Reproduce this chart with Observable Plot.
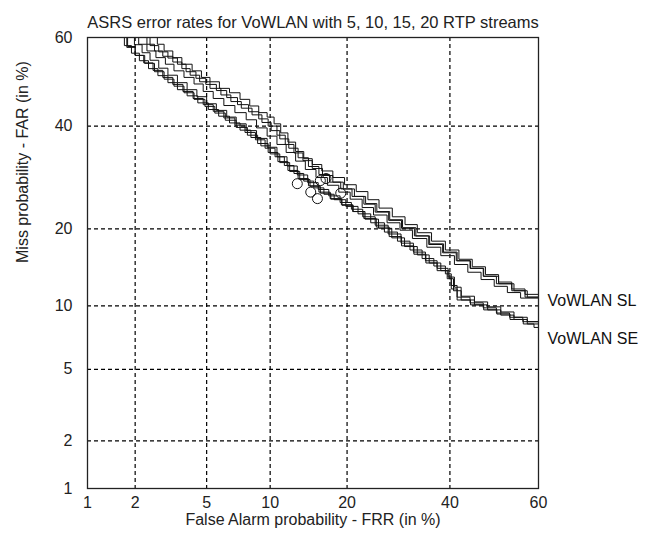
<!DOCTYPE html>
<html>
<head>
<meta charset="utf-8">
<script src="https://cdn.jsdelivr.net/npm/d3@7"></script>
<script src="https://cdn.jsdelivr.net/npm/@observablehq/plot@0.6"></script>
<style>
  html, body { margin: 0; padding: 0; background: #fff; }
  #chart svg { display: block; font-family: "Liberation Sans", Arial, sans-serif; }
</style>
</head>
<body>
<div id="chart"></div>
<script>
// ---- Data (percent values: [FRR, FAR]) ----
const title = "ASRS error rates for VoWLAN with 5, 10, 15, 20 RTP streams";
const xLabel = "False Alarm probability - FRR (in %)";
const yLabel = "Miss probability - FAR (in %)";
const xTickValues = [1, 2, 5, 10, 20, 40, 60];
const yTickValues = [1, 2, 5, 10, 20, 40, 60];
const gridValues = [2, 5, 10, 20, 40];

const sl1 = [[2.5,60],[2.7,58.5],[2.95,57],[3.3,55.5],[3.7,54],[4.2,52.5],[4.7,51],[5.2,50],[5.8,48.5],[6.5,47.5],[7.3,46],[8.1,44.5],[8.9,43],[9.7,42],[10.4,40.5],[11.1,38.5],[11.9,36.5],[12.8,34.5],[13.8,33],[14.9,31.8],[16.2,30.5],[17.8,29.2],[19.6,27.8],[21.5,26.5],[23.5,25],[25.5,23.5],[28,22],[30.5,20.7],[33,19.4],[36,18.1],[39,16.8],[42,15.5],[45,14.5],[48,13.5],[51,12.6],[54,11.8],[57,11.2],[60,11.0]];
const sl2 = [[2.2,60],[2.35,58.5],[2.6,57],[2.9,55.8],[3.3,54.5],[3.7,53],[4.1,51.5],[4.6,50],[5.2,48.5],[5.9,47],[6.6,45.5],[7.4,44],[8.3,42.5],[9.2,40.8],[10.1,39],[11.0,37.2],[12.0,35.2],[13.1,33.2],[14.4,31.4],[15.8,29.8],[17.3,28.3],[19.0,27],[20.8,25.6],[22.8,24.2],[24.8,22.8],[27.3,21.4],[29.8,20.1],[32.4,18.9],[35.4,17.6],[38.4,16.4],[41.4,15.3],[44.5,14.3],[47.5,13.3],[50.5,12.4],[54,11.6],[57,10.9],[60,10.6]];
const sl3 = [[1.95,60],[2.1,58.5],[2.35,57],[2.65,55.5],[3.0,54],[3.35,52.5],[3.8,51],[4.3,49.5],[4.8,47.8],[5.4,46.2],[6.1,44.6],[6.9,43],[7.8,41.4],[8.7,39.6],[9.7,37.8],[10.7,36],[11.7,34.3],[12.8,32.5],[14.0,30.8],[15.4,29.2],[17,27.7],[18.7,26.4],[20.5,25.1],[22.5,23.6],[24.5,22.3],[27,21],[29.5,19.8],[32,18.5],[35,17.2],[38,16],[41,14.8],[44,13.8],[47,12.9],[50,12.1],[53,11.4],[56,10.8],[60,10.4]];
const sl4 = [[2.3,60],[2.45,58.2],[2.75,56.8],[3.1,55.4],[3.5,54],[3.9,52.3],[4.4,50.8],[4.95,49.4],[5.6,48],[6.3,46.4],[7.1,44.8],[8.0,43.2],[8.9,41.6],[9.8,40],[10.7,38],[11.6,36],[12.6,34.2],[13.7,32.6],[14.9,31],[16.3,29.6],[17.8,28.3],[19.4,27],[21.2,25.6],[23.1,24.3],[25.1,22.9],[27.5,21.5],[30,20.2],[32.7,18.9],[35.6,17.7],[38.6,16.5],[41.6,15.3],[44.6,14.3],[47.6,13.3],[51,12.4],[54.5,11.6],[57.5,10.9],[60,10.1]];

const se1 = [[1.7,60],[1.8,58],[2.0,56],[2.25,54.3],[2.55,52.6],[2.9,51],[3.3,49.4],[3.75,47.8],[4.25,46.2],[4.8,44.8],[5.4,43.3],[6.1,41.8],[6.9,40.2],[7.7,38.6],[8.6,37],[9.5,35.2],[10.5,33.4],[11.5,31.6],[12.6,30],[13.8,28.5],[15.1,27.2],[16.5,26],[18,25],[19.8,23.8],[21.8,22.5],[24,21],[26.5,19.5],[29,18.1],[31.5,16.8],[34,15.6],[36.5,14.6],[39,13.6],[40.3,12.2],[41.6,10.9],[44.5,10.3],[47.5,9.8],[50.5,9.3],[53.5,8.9],[56.5,8.5],[60,8.2]];
const se2 = [[1.6,60],[1.72,58.2],[1.9,56.5],[2.12,54.8],[2.4,53],[2.72,51.4],[3.1,49.8],[3.5,48.2],[3.95,46.8],[4.5,45.2],[5.1,43.7],[5.75,42.2],[6.5,40.7],[7.3,39.1],[8.2,37.5],[9.1,35.7],[10.0,34],[11.0,32.2],[12.1,30.4],[13.3,28.8],[14.6,27.5],[16.0,26.2],[17.5,25.1],[19.2,24],[21,22.9],[23,21.6],[25.4,20.1],[27.9,18.6],[30.4,17.3],[33,16.1],[35.5,15],[38,14],[39.8,13],[40.8,11.6],[42.5,10.6],[45.5,10.1],[48.5,9.6],[51.5,9.1],[54.5,8.7],[57.5,8.3],[60,7.9]];
const se3 = [[1.85,60],[1.98,58.4],[2.2,56.6],[2.45,54.9],[2.75,53.1],[3.1,51.5],[3.5,49.8],[3.95,48.2],[4.45,46.6],[5.0,45],[5.6,43.5],[6.3,42],[7.0,40.5],[7.8,39],[8.7,37.3],[9.7,35.4],[10.7,33.4],[11.8,31.5],[13.0,29.7],[14.3,28.2],[15.7,26.9],[17.2,25.7],[18.9,24.5],[20.7,23.3],[22.6,22],[24.8,20.6],[27.2,19.2],[29.7,17.8],[32.2,16.5],[34.7,15.3],[37.2,14.3],[39.6,13.2],[41.0,12],[42.5,11],[45.5,10.4],[48.5,9.9],[51.5,9.4],[54.5,8.9],[57.5,8.5],[60,8.4]];
const se4 = [[1.65,60],[1.78,57.8],[2.0,56],[2.28,54.2],[2.6,52.3],[2.95,50.6],[3.35,49],[3.8,47.5],[4.3,46],[4.9,44.4],[5.5,42.9],[6.2,41.3],[7.0,39.7],[7.9,38],[8.8,36.2],[9.8,34.3],[10.8,32.4],[11.9,30.6],[13.1,29],[14.4,27.6],[15.8,26.4],[17.4,25.2],[19.1,24.1],[20.9,22.9],[22.8,21.7],[25,20.3],[27.4,18.8],[29.8,17.4],[32.3,16.2],[34.8,15],[37.2,14],[39.4,13],[40.3,11.8],[41.6,10.6],[44.6,10.1],[47.6,9.6],[50.6,9.2],[53.6,8.7],[56.6,8.3],[59,8],[60,7.7]];

const circlePoints = [[13.0,28.0],[14.7,26.4],[15.6,25.2],[16.0,28.6],[16.8,29.0],[19.0,26.2]];
const seriesLabels = [["VoWLAN SL", 60, 10.55], ["VoWLAN SE", 60, 7.1]];

// ---- Normal deviate (probit) scale helper ----
function probit(p) {
  const a=[-3.969683028665376e+01,2.209460984245205e+02,-2.759285104469687e+02,1.383577518672690e+02,-3.066479806614716e+01,2.506628277459239e+00];
  const b=[-5.447609879822406e+01,1.615858368580409e+02,-1.556989798598866e+02,6.680131188771972e+01,-1.328068155288572e+01];
  const c=[-7.784894002430293e-03,-3.223964580411365e-01,-2.400758277161838e+00,-2.549732539343734e+00,4.374664141464968e+00,2.938163982698783e+00];
  const d=[7.784695709041462e-03,3.224671290700398e-01,2.445134137142996e+00,3.754408661907416e+00];
  const plow = 0.02425, phigh = 1 - plow;
  let q, r;
  if (p < plow) {
    q = Math.sqrt(-2*Math.log(p));
    return (((((c[0]*q+c[1])*q+c[2])*q+c[3])*q+c[4])*q+c[5])/((((d[0]*q+d[1])*q+d[2])*q+d[3])*q+1);
  }
  if (p <= phigh) {
    q = p - 0.5; r = q*q;
    return (((((a[0]*r+a[1])*r+a[2])*r+a[3])*r+a[4])*r+a[5])*q/(((((b[0]*r+b[1])*r+b[2])*r+b[3])*r+b[4])*r+1);
  }
  q = Math.sqrt(-2*Math.log(1-p));
  return -(((((c[0]*q+c[1])*q+c[2])*q+c[3])*q+c[4])*q+c[5])/((((d[0]*q+d[1])*q+d[2])*q+d[3])*q+1);
}
const pz = v => probit(v / 100);

const curves = [sl1, sl2, sl3, sl4, se1, se2, se3, se4];
const lineData = curves.flatMap((c, k) => c.map(([frr, far]) => ({id: k, frr, far})));

const xFmt = new Map(xTickValues.map(v => [pz(v).toFixed(6), String(v)]));
const yFmt = new Map(yTickValues.map(v => [pz(v).toFixed(6), String(v)]));

const chart = Plot.plot({
  width: 656,
  height: 535,
  marginLeft: 87,
  marginRight: 118,
  marginTop: 37,
  marginBottom: 47,
  style: {fontFamily: "'Liberation Sans', Arial, sans-serif", fontSize: "16px", color: "#222", background: "#fff"},
  x: {type: "linear", domain: [pz(1), pz(60)]},
  y: {type: "linear", domain: [pz(1), pz(60)]},
  marks: [
    Plot.gridX(gridValues.map(pz), {stroke: "#000", strokeOpacity: 1, strokeWidth: 1.2, strokeDasharray: "4,3"}),
    Plot.gridY(gridValues.map(pz), {stroke: "#000", strokeOpacity: 1, strokeWidth: 1.2, strokeDasharray: "4,3"}),
    Plot.axisX(xTickValues.map(pz), {tickSize: 0, tickPadding: 8, fontSize: 16, tickFormat: d => xFmt.get(d.toFixed(6)), label: null}),
    Plot.axisY(yTickValues.map(pz), {tickSize: 0, tickPadding: 15, fontSize: 16, tickFormat: d => yFmt.get(d.toFixed(6)), label: null}),
    Plot.line(lineData, {x: d => pz(d.frr), y: d => pz(d.far), z: "id", curve: "step-after", stroke: "#111", strokeWidth: 1, clip: true}),
    Plot.dot(circlePoints, {x: d => pz(d[0]), y: d => pz(d[1]), r: 5, stroke: "#111", strokeWidth: 1, fill: "none"}),
    Plot.frame({stroke: "#222", strokeWidth: 1.3}),
    Plot.text(seriesLabels, {x: d => pz(d[1]), y: d => pz(d[2]), text: d => d[0], textAnchor: "start", dx: 9, fontSize: 16, fill: "#111"}),
    Plot.text([title], {frameAnchor: "top", dy: -21, fontSize: 16.5, fill: "#222"}),
    Plot.text([xLabel], {frameAnchor: "bottom", dy: 36, fontSize: 16, fill: "#222"}),
    Plot.text([yLabel], {frameAnchor: "left", dx: -65, rotate: -90, fontSize: 16, fill: "#222"})
  ]
});
document.getElementById("chart").appendChild(chart);
</script>
</body>
</html>
